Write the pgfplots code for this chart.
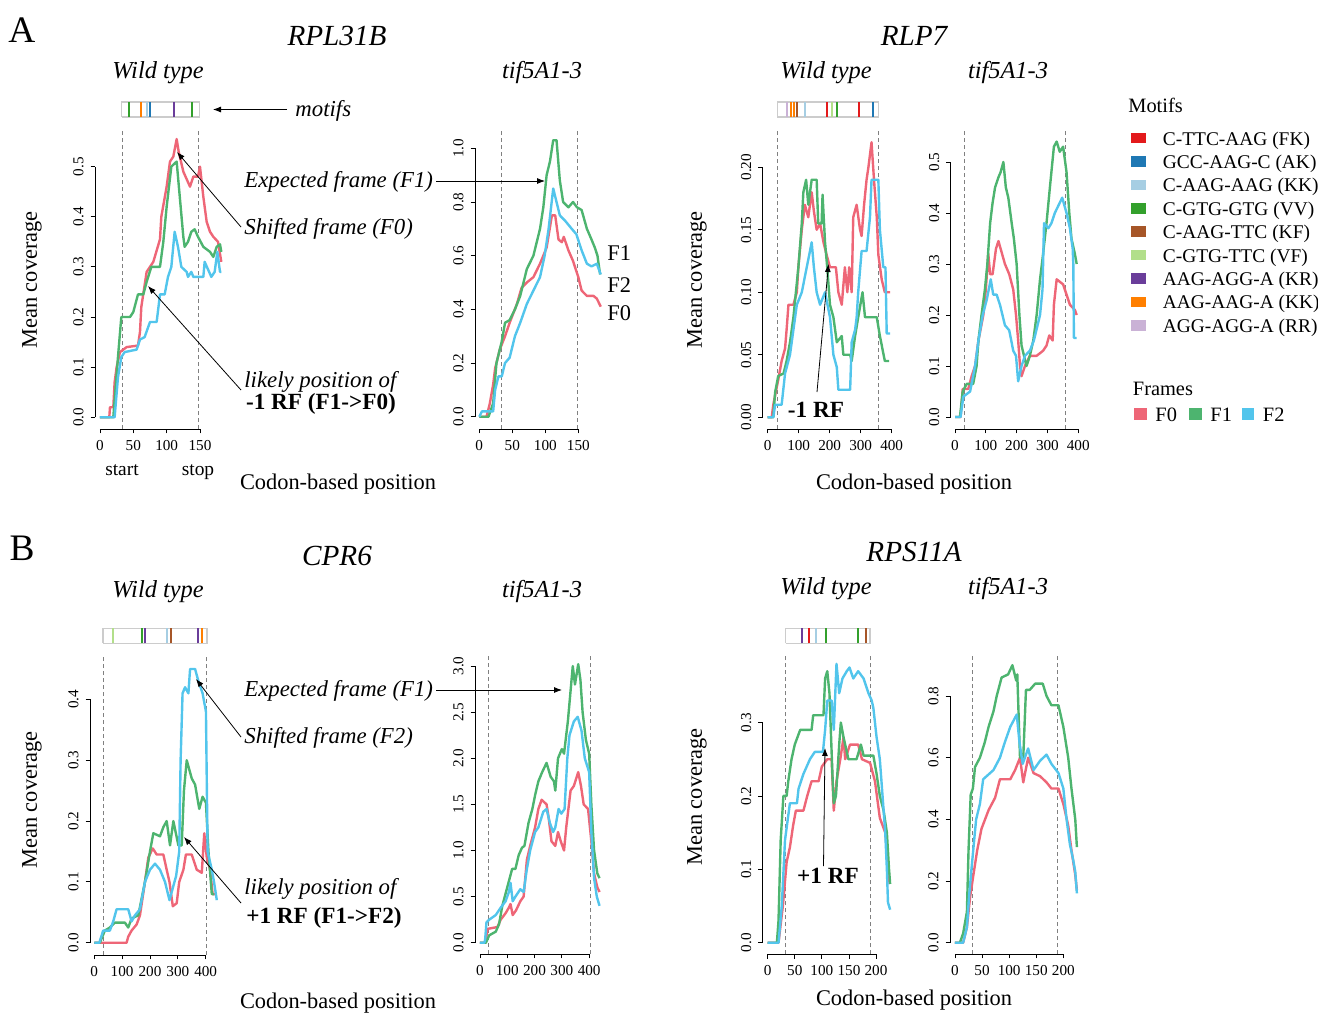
\documentclass[border=0pt]{standalone}
\usepackage{fontspec}
\setmainfont{Liberation Serif}
\usepackage{pgfplots}
\pgfplotsset{compat=1.18}
\usetikzlibrary{arrows.meta}

\newcommand\fs[1]{\fontsize{#1}{#1}\selectfont}

% frame colours
\definecolor{cFa}{HTML}{EE6677}
\definecolor{cFb}{HTML}{4DB46F}
\definecolor{cFc}{HTML}{52C5EC}
% motif colours
\definecolor{mFK}{HTML}{E31A1C}
\definecolor{mAK}{HTML}{1F78B4}
\definecolor{mKKa}{HTML}{A6CEE3}
\definecolor{mVV}{HTML}{33A02C}
\definecolor{mKF}{HTML}{A65628}
\definecolor{mVF}{HTML}{B2DF8A}
\definecolor{mKR}{HTML}{6A3D9A}
\definecolor{mKKb}{HTML}{FF7F00}
\definecolor{mRR}{HTML}{CAB2D6}

\pgfplotsset{
  rpanel/.style={scale only axis, anchor=south west,
    axis line style={draw=none}, tick pos=left, tick align=outside,
    major tick length=2.2pt, tick style={black, line width=0.4pt},
    ticklabel style={font=\fs{7.6}},
    yticklabel style={rotate=90, anchor=south},
    clip=false,
    every axis plot/.append style={line width=1.2pt, line join=round, mark=none}},
  motif/.style={scale only axis, anchor=south west, hide axis,
    height=7.5pt, ymin=0, ymax=1, clip=false},
}
% R-like axis lines: xmin, top y tick, ymin, last x tick
\newcommand\raxes[4]{%
  \draw[line width=0.4pt] (axis cs:#1,0) -- (axis cs:#1,#2);
  \draw[line width=0.4pt] (axis cs:0,#3) -- (axis cs:#4,#3);}
% start/stop dashed lines
\newcommand\startstop[4]{%
  \draw[gray, line width=0.45pt, dash pattern=on 2pt off 1.5pt] (axis cs:#1,#3) -- (axis cs:#1,#4);
  \draw[gray, line width=0.45pt, dash pattern=on 2pt off 1.5pt] (axis cs:#2,#3) -- (axis cs:#2,#4);}
\newcommand\mbar[2]{\addplot[gray!40, line width=0.8pt] coordinates {(#1,0)(#2,0)(#2,1)(#1,1)(#1,0)};}
\newcommand\mtick[2]{\addplot[#1, line width=1pt] coordinates {(#2,0)(#2,1)};}

\begin{document}
\begin{tikzpicture}

% ================= A: RPL31B wild type
\begin{axis}[rpanel, at={(47.55pt,-214.5pt)}, width=65.55pt, height=149.5pt,
  xmin=-7.3, xmax=189.3, ymin=-0.0234, ymax=0.573,
  xtick={0,50,100,150}, xticklabels={0,50,100,150},
  ytick={0,0.1,0.2,0.3,0.4,0.5}, yticklabels={0.0,0.1,0.2,0.3,0.4,0.5}]
\startstop{33}{148}{-0.0234}{0.573}
\raxes{-7.3}{0.5}{-0.0234}{150}
\addplot[cFa] coordinates {(0,0)(14,0)(15,0.02)(20,0.02)(22,0.07)(25,0.1)(30,0.13)(40,0.14)(57,0.143)(60,0.17)(62,0.22)(70,0.29)(80,0.31)(90,0.355)(92,0.4)(100,0.46)(105,0.51)(110,0.52)(115,0.555)(118,0.53)(125,0.49)(135,0.46)(140,0.48)(147,0.48)(150,0.5)(155,0.44)(160,0.39)(165,0.37)(170,0.36)(177,0.35)(182,0.31)};
\addplot[cFb] coordinates {(0,0)(20,0)(27,0.12)(32,0.2)(45,0.2)(50,0.21)(57,0.245)(65,0.245)(70,0.27)(77,0.3)(90,0.3)(95,0.35)(100,0.42)(107,0.5)(115,0.51)(119,0.45)(125,0.36)(127,0.34)(132,0.35)(137,0.37)(142,0.375)(147,0.36)(155,0.34)(165,0.33)(170,0.32)(175,0.34)(180,0.345)(182,0.33)};
\addplot[cFc] coordinates {(0,0)(22,0)(27,0.08)(32,0.12)(37,0.13)(55,0.135)(60,0.155)(67,0.16)(75,0.19)(85,0.19)(90,0.245)(97,0.245)(102,0.28)(107,0.3)(112,0.37)(117,0.34)(122,0.3)(130,0.29)(132,0.28)(137,0.29)(140,0.28)(155,0.28)(157,0.31)(167,0.28)(172,0.29)(176,0.33)(180,0.29)(182,0.29)};
\end{axis}
\begin{axis}[motif, at={(47.55pt,-58.35pt)}, width=65.55pt, xmin=-7.3, xmax=189.3]
\mbar{32.5}{149}
\mtick{mVV}{43.5}\mtick{mKKb}{61}\mtick{mKKa}{71}\mtick{mAK}{75}\mtick{mKR}{111}\mtick{mVV}{138}
\end{axis}

% ================= A: RPL31B tif5A1-3
\begin{axis}[rpanel, at={(237.5pt,-214.5pt)}, width=65.35pt, height=149.5pt,
  xmin=-6.5, xmax=191.5, ymin=-0.0458, ymax=1.068,
  xtick={0,50,100,150}, xticklabels={0,50,100,150},
  ytick={0,0.2,0.4,0.6,0.8,1.0}, yticklabels={0.0,0.2,0.4,0.6,0.8,1.0}]
\startstop{33}{148}{-0.0458}{1.068}
\raxes{-6.5}{1.0}{-0.0458}{150}
\addplot[cFa] coordinates {(0,0)(11,0)(16,0.05)(21,0.12)(24,0.18)(31,0.25)(39,0.3)(46,0.35)(57,0.42)(64,0.48)(72,0.5)(82,0.52)(92,0.57)(102,0.63)(110,0.75)(115,0.75)(120,0.66)(125,0.65)(128,0.67)(135,0.62)(142,0.58)(150,0.52)(155,0.47)(163,0.45)(173,0.45)(178,0.44)(184,0.41)};
\addplot[cFb] coordinates {(0,0)(14,0)(21,0.05)(26,0.2)(34,0.28)(39,0.35)(46,0.36)(54,0.4)(62,0.45)(72,0.55)(82,0.6)(92,0.7)(97,0.78)(102,0.9)(107,0.95)(112,1.03)(117,1.03)(122,0.88)(127,0.8)(135,0.78)(142,0.8)(148,0.78)(155,0.77)(163,0.7)(170,0.66)(175,0.63)(179,0.6)(183,0.53)};
\addplot[cFc] coordinates {(0,0)(4,0.02)(21,0.02)(24,0.1)(29,0.15)(34,0.15)(39,0.2)(46,0.22)(54,0.3)(62,0.35)(72,0.42)(82,0.47)(92,0.52)(99,0.6)(105,0.7)(112,0.85)(117,0.8)(122,0.75)(130,0.73)(140,0.7)(147,0.68)(155,0.62)(163,0.57)(170,0.56)(178,0.57)(184,0.53)};
\end{axis}

% ================= A: RLP7 wild type
\begin{axis}[rpanel, at={(381.35pt,-214.5pt)}, width=64.95pt, height=149.5pt,
  xmin=-16.1, xmax=403, ymin=-0.0094, ymax=0.2298,
  xtick={0,100,200,300,400}, xticklabels={0,100,200,300,400},
  ytick={0,0.05,0.1,0.15,0.2}, yticklabels={0.00,0.05,0.10,0.15,0.20}]
\startstop{31}{358}{-0.0094}{0.2298}
\raxes{-16.1}{0.2}{-0.0094}{400}
\addplot[cFa] coordinates {(0,0)(13,0)(18,0.01)(34,0.03)(45,0.045)(56,0.055)(61,0.07)(67,0.09)(83,0.09)(94,0.1)(99,0.12)(110,0.15)(120,0.17)(131,0.16)(142,0.18)(149,0.165)(158,0.15)(169,0.155)(180,0.14)(190,0.13)(201,0.12)(220,0.12)(228,0.1)(239,0.09)(249,0.12)(257,0.1)(263,0.12)(271,0.1)(276,0.16)(287,0.17)(298,0.15)(303,0.145)(311,0.17)(319,0.19)(325,0.2)(335,0.22)(343,0.19)(352,0.16)(357,0.13)(368,0.11)(378,0.1)(395,0.1)};
\addplot[cFb] coordinates {(0,0)(18,0)(24,0.02)(34,0.033)(51,0.035)(61,0.045)(72,0.06)(83,0.08)(91,0.1)(99,0.12)(110,0.155)(115,0.18)(124,0.19)(131,0.17)(142,0.19)(158,0.19)(163,0.155)(174,0.155)(177,0.178)(185,0.14)(192,0.12)(201,0.09)(212,0.08)(223,0.06)(239,0.065)(244,0.05)(266,0.05)(271,0.045)(282,0.065)(292,0.08)(306,0.1)(314,0.08)(352,0.08)(362,0.065)(378,0.045)(392,0.045)};
\addplot[cFc] coordinates {(0,0)(18,0)(24,0.01)(45,0.01)(56,0.035)(72,0.05)(83,0.07)(94,0.09)(110,0.1)(126,0.12)(142,0.14)(149,0.12)(158,0.1)(169,0.09)(185,0.1)(201,0.08)(212,0.05)(223,0.04)(228,0.022)(266,0.022)(271,0.06)(282,0.07)(287,0.08)(292,0.1)(303,0.133)(319,0.133)(330,0.16)(335,0.19)(357,0.19)(362,0.15)(373,0.12)(380,0.12)(384,0.067)(395,0.067)};
\end{axis}
\begin{axis}[motif, at={(381.35pt,-58.35pt)}, width=64.95pt, xmin=-16.1, xmax=403]
\mbar{31}{358}
\mtick{mRR}{61}\mtick{mKKb}{75}\mtick{mKKb}{86}\mtick{mKF}{94}\mtick{mKKa}{120}\mtick{mFK}{190}\mtick{mVF}{206}\mtick{mVV}{223}\mtick{mFK}{296}\mtick{mAK}{341}
\end{axis}

% ================= A: RLP7 tif5A1-3
\begin{axis}[rpanel, at={(475.35pt,-214.5pt)}, width=65.15pt, height=149.5pt,
  xmin=-14, xmax=409, ymin=-0.0235, ymax=0.5627,
  xtick={0,100,200,300,400}, xticklabels={0,100,200,300,400},
  ytick={0,0.1,0.2,0.3,0.4,0.5}, yticklabels={0.0,0.1,0.2,0.3,0.4,0.5}]
\startstop{32}{358}{-0.0235}{0.5627}
\raxes{-14}{0.5}{-0.0235}{400}
\addplot[cFa] coordinates {(0,0)(18,0)(25,0.055)(43,0.055)(54,0.08)(65,0.1)(76,0.15)(92,0.2)(100,0.25)(108,0.32)(114,0.28)(122,0.28)(133,0.33)(141,0.345)(162,0.3)(176,0.28)(189,0.25)(198,0.2)(205,0.15)(211,0.1)(216,0.08)(227,0.1)(243,0.12)(265,0.12)(286,0.13)(297,0.14)(306,0.16)(317,0.15)(321,0.22)(330,0.27)(351,0.26)(362,0.24)(373,0.22)(389,0.21)(395,0.2)};
\addplot[cFb] coordinates {(0,0)(16,0)(25,0.05)(38,0.065)(59,0.065)(70,0.1)(76,0.15)(86,0.2)(97,0.25)(105,0.3)(114,0.38)(122,0.42)(130,0.45)(141,0.47)(148,0.48)(157,0.5)(165,0.45)(173,0.43)(184,0.38)(191,0.35)(200,0.3)(209,0.2)(216,0.14)(224,0.12)(232,0.1)(243,0.12)(254,0.15)(265,0.2)(276,0.27)(284,0.31)(297,0.38)(308,0.45)(321,0.53)(330,0.54)(340,0.52)(351,0.53)(362,0.48)(371,0.4)(378,0.35)(389,0.32)(395,0.3)};
\addplot[cFc] coordinates {(0,0)(18,0)(27,0.04)(49,0.05)(65,0.1)(76,0.15)(90,0.2)(103,0.23)(116,0.27)(124,0.24)(135,0.24)(146,0.22)(162,0.18)(176,0.17)(189,0.13)(198,0.12)(205,0.07)(216,0.1)(227,0.12)(243,0.13)(256,0.15)(276,0.2)(284,0.25)(289,0.38)(303,0.37)(313,0.38)(324,0.4)(340,0.42)(348,0.43)(362,0.4)(373,0.37)(382,0.33)(384,0.3)(386,0.155)(395,0.155)};
\end{axis}

% ================= B: CPR6 wild type
\begin{axis}[rpanel, at={(45pt,-477.5pt)}, width=65.85pt, height=150pt,
  xmin=-15.4, xmax=457.6, ymin=-0.0202, ymax=0.473,
  xtick={0,100,200,300,400}, xticklabels={0,100,200,300,400},
  ytick={0,0.1,0.2,0.3,0.4}, yticklabels={0.0,0.1,0.2,0.3,0.4}]
\startstop{32}{404}{-0.0202}{0.473}
\raxes{-15.4}{0.4}{-0.0202}{400}
\addplot[cFa] coordinates {(0,0)(116,0)(122,0.01)(134,0.02)(152,0.03)(164,0.045)(182,0.1)(194,0.14)(210,0.155)(224,0.145)(248,0.145)(260,0.12)(270,0.1)(282,0.06)(296,0.065)(305,0.1)(320,0.12)(329,0.145)(350,0.145)(368,0.12)(386,0.115)(395,0.18)(404,0.14)(416,0.12)(425,0.08)(434,0.08)};
\addplot[cFb] coordinates {(0,0)(20,0)(38,0.02)(56,0.025)(74,0.033)(110,0.033)(122,0.025)(134,0.04)(158,0.045)(182,0.1)(200,0.15)(212,0.18)(236,0.175)(248,0.19)(260,0.2)(272,0.16)(284,0.2)(302,0.16)(314,0.16)(322,0.25)(332,0.3)(350,0.27)(362,0.26)(377,0.22)(389,0.24)(401,0.23)(410,0.15)(422,0.08)(430,0.08)};
\addplot[cFc] coordinates {(0,0)(18,0)(32,0.02)(56,0.02)(68,0.035)(80,0.055)(122,0.055)(134,0.035)(146,0.045)(164,0.055)(182,0.1)(200,0.12)(218,0.13)(236,0.12)(254,0.1)(270,0.07)(282,0.09)(294,0.11)(305,0.15)(310,0.3)(317,0.41)(326,0.42)(338,0.41)(344,0.45)(362,0.45)(374,0.43)(389,0.41)(401,0.38)(407,0.15)(422,0.12)(430,0.1)(440,0.07)};
\end{axis}
\begin{axis}[motif, at={(45pt,-321.65pt)}, width=65.85pt, xmin=-15.4, xmax=457.6]
\mbar{32}{404}
\mtick{mVF}{66}\mtick{mVV}{172}\mtick{mKR}{182}\mtick{mKKa}{260}\mtick{mKF}{275}\mtick{mKR}{373}\mtick{mKKb}{386}
\end{axis}

% ================= B: CPR6 tif5A1-3
\begin{axis}[rpanel, at={(237.5pt,-477pt)}, width=65pt, height=149.5pt,
  xmin=-18, xmax=458, ymin=-0.1226, ymax=3.12,
  xtick={0,100,200,300,400}, xticklabels={0,100,200,300,400},
  ytick={0,0.5,1,1.5,2,2.5,3}, yticklabels={0.0,0.5,1.0,1.5,2.0,2.5,3.0}]
\startstop{31}{404}{-0.1226}{3.12}
\raxes{-18}{3}{-0.1226}{400}
\addplot[cFa] coordinates {(0,0)(20,0)(28,0.15)(64,0.17)(76,0.25)(94,0.32)(106,0.38)(112,0.42)(120,0.3)(132,0.35)(148,0.45)(160,0.5)(172,0.9)(184,1.05)(202,1.25)(214,1.45)(226,1.55)(244,1.5)(252,1.35)(262,1.1)(276,1.05)(286,1.2)(296,1.1)(308,1.0)(316,1.25)(332,1.65)(344,1.7)(360,1.85)(370,1.7)(380,1.5)(396,1.45)(408,1.1)(418,0.75)(430,0.6)(438,0.55)};
\addplot[cFb] coordinates {(0,0)(22,0)(34,0.08)(58,0.12)(70,0.2)(82,0.4)(100,0.6)(118,0.8)(130,0.8)(142,0.95)(154,1.03)(163,1.05)(178,1.3)(192,1.45)(202,1.6)(214,1.75)(228,1.85)(244,1.95)(259,1.8)(271,1.75)(276,1.65)(286,2.0)(300,2.1)(308,2.05)(322,2.4)(334,2.8)(340,3.0)(348,2.8)(360,3.02)(368,2.85)(376,2.5)(388,2.2)(400,2.05)(408,1.5)(418,1.0)(430,0.75)(438,0.7)};
\addplot[cFc] coordinates {(0,0)(16,0)(19,0.03)(24,0.22)(34,0.25)(58,0.3)(76,0.38)(94,0.45)(106,0.55)(112,0.65)(120,0.45)(130,0.5)(148,0.58)(160,0.55)(172,0.8)(184,1.0)(202,1.2)(214,1.25)(232,1.42)(244,1.45)(256,1.3)(268,1.2)(276,1.25)(288,1.45)(298,1.4)(310,1.45)(320,2.0)(328,2.25)(344,2.4)(358,2.45)(372,2.3)(384,2.0)(400,1.85)(408,1.2)(418,0.7)(428,0.5)(438,0.4)};
\end{axis}

% ================= B: RPS11A wild type
\begin{axis}[rpanel, at={(381.35pt,-477.15pt)}, width=66.15pt, height=149.65pt,
  xmin=-9.2, xmax=235, ymin=-0.0158, ymax=0.392,
  xtick={0,50,100,150,200}, xticklabels={0,50,100,150,200},
  ytick={0,0.1,0.2,0.3}, yticklabels={0.0,0.1,0.2,0.3}]
\startstop{33}{190}{-0.0158}{0.392}
\raxes{-9.2}{0.3}{-0.0158}{200}
\addplot[cFa] coordinates {(0,0)(20,0)(28,0.05)(35,0.11)(41,0.13)(47,0.16)(52,0.18)(66,0.18)(73,0.2)(81,0.22)(94,0.22)(100,0.24)(110,0.25)(118,0.25)(122,0.18)(127,0.22)(134,0.25)(140,0.28)(143,0.25)(152,0.27)(167,0.27)(174,0.25)(189,0.245)(198,0.22)(207,0.17)(217,0.15)(223,0.1)(225,0.08)};
\addplot[cFb] coordinates {(0,0)(17,0)(20,0.03)(24,0.14)(29,0.2)(35,0.2)(38,0.22)(44,0.25)(50,0.27)(60,0.29)(81,0.29)(84,0.31)(103,0.31)(106,0.36)(110,0.37)(114,0.34)(116,0.3)(120,0.22)(122,0.19)(126,0.2)(132,0.27)(135,0.3)(140,0.28)(149,0.25)(164,0.25)(172,0.27)(177,0.255)(195,0.255)(201,0.23)(207,0.2)(214,0.18)(220,0.15)(224,0.1)(226,0.08)};
\addplot[cFc] coordinates {(0,0)(20,0)(26,0.05)(32,0.14)(41,0.19)(54,0.19)(57,0.21)(66,0.23)(78,0.25)(87,0.26)(102,0.26)(106,0.29)(110,0.33)(118,0.33)(122,0.29)(127,0.38)(132,0.34)(138,0.36)(146,0.37)(151,0.375)(158,0.36)(167,0.37)(177,0.36)(186,0.34)(192,0.33)(195,0.32)(201,0.28)(207,0.25)(212,0.2)(217,0.15)(220,0.1)(222,0.055)(226,0.045)};
\end{axis}
\begin{axis}[motif, at={(381.35pt,-321.65pt)}, width=66.15pt, xmin=-9.2, xmax=235]
\mbar{33}{189}
\mtick{mKR}{64}\mtick{mFK}{76}\mtick{mKKa}{89}\mtick{mVV}{107}\mtick{mVV}{166}\mtick{mKF}{181}
\end{axis}

% ================= B: RPS11A tif5A1-3
\begin{axis}[rpanel, at={(475pt,-477pt)}, width=66.15pt, height=149.5pt,
  xmin=-9.2, xmax=235, ymin=-0.0366, ymax=0.933,
  xtick={0,50,100,150,200}, xticklabels={0,50,100,150,200},
  ytick={0,0.2,0.4,0.6,0.8}, yticklabels={0.0,0.2,0.4,0.6,0.8}]
\startstop{33}{190}{-0.0366}{0.933}
\raxes{-9.2}{0.8}{-0.0366}{200}
\addplot[cFa] coordinates {(0,0)(15,0)(22,0.05)(28,0.15)(34,0.22)(41,0.3)(49,0.37)(62,0.43)(74,0.47)(83,0.53)(102,0.53)(111,0.56)(120,0.6)(126,0.52)(135,0.6)(145,0.55)(157,0.54)(169,0.52)(178,0.5)(191,0.5)(200,0.45)(209,0.38)(215,0.3)(222,0.22)(225,0.17)};
\addplot[cFb] coordinates {(0,0)(9,0)(15,0.03)(22,0.1)(25,0.3)(29,0.48)(33,0.5)(37,0.57)(46,0.6)(55,0.65)(62,0.7)(71,0.75)(77,0.8)(86,0.86)(98,0.87)(106,0.9)(113,0.85)(115,0.87)(120,0.6)(126,0.6)(131,0.82)(138,0.82)(148,0.84)(162,0.84)(169,0.8)(178,0.77)(191,0.77)(200,0.7)(209,0.6)(215,0.5)(222,0.4)(225,0.31)};
\addplot[cFc] coordinates {(0,0)(15,0)(22,0.05)(26,0.15)(31,0.25)(39,0.4)(46,0.45)(52,0.53)(71,0.56)(83,0.6)(92,0.65)(102,0.7)(114,0.74)(119,0.65)(125,0.58)(135,0.63)(145,0.56)(157,0.59)(169,0.61)(178,0.58)(191,0.55)(200,0.5)(206,0.4)(212,0.32)(218,0.27)(222,0.23)(225,0.16)};
\end{axis}

% ================= annotations (pixel units, origin top left)
\begin{scope}[x=0.5pt, y=-0.5pt, every node/.style={inner sep=0pt}]
\node[font=\fs{18.7}, anchor=base] at (22,42) {A};
\node[font=\fs{18.7}, anchor=base] at (22,560) {B};

\node[font=\fs{14.6}\itshape, anchor=base] at (337,45) {RPL31B};
\node[font=\fs{14.6}\itshape, anchor=base] at (914,45) {RLP7};
\node[font=\fs{14.6}\itshape, anchor=base] at (337,565) {CPR6};
\node[font=\fs{14.6}\itshape, anchor=base] at (914,561) {RPS11A};

\foreach \x/\y/\t in {158/78/Wild type, 542/78/tif5A1-3, 826/78/Wild type, 1008/78/tif5A1-3,
                      158/597/Wild type, 542/597/tif5A1-3, 826/594/Wild type, 1008/594/tif5A1-3}
  \node[font=\fs{12.2}\itshape, anchor=base] at (\x,\y) {\t};

\foreach \x/\y in {32/280, 697/280, 32/800, 697/797}
  \node[font=\fs{11.2}, rotate=90] at (\x,\y) {Mean coverage};
\foreach \x/\y in {338/489, 914/489, 338/1008, 914/1005}
  \node[font=\fs{11.2}, anchor=base] at (\x,\y) {Codon-based position};

\node[font=\fs{9.7}, anchor=base] at (122,475) {start};
\node[font=\fs{9.7}, anchor=base] at (198,475) {stop};

% motifs pointer
\node[font=\fs{11.4}\itshape, anchor=base west] at (295,116.5) {motifs};
\draw[line width=0.4pt, -{Latex[length=4pt,width=3pt]}] (287,109.5) -- (213,109.5);

% row A notes
\node[font=\fs{11.4}\itshape, anchor=base west] at (244,187) {Expected frame (F1)};
\draw[line width=0.4pt, -{Latex[length=4pt,width=3pt]}] (436,181) -- (545,181);
\node[font=\fs{11.4}\itshape, anchor=base west] at (244,234) {Shifted frame (F0)};
\draw[line width=0.4pt, -{Latex[length=4pt,width=3pt]}] (241,227) -- (177,152);
\node[font=\fs{11.4}\itshape, anchor=base west] at (244,387) {likely position of};
\node[font=\fs{11.6}\bfseries, anchor=base] at (321,409) {-1 RF (F1->F0)};
\draw[line width=0.4pt, -{Latex[length=4pt,width=3pt]}] (241,390) -- (148,286);
\node[font=\fs{11.2}, anchor=base west] at (607,260) {F1};
\node[font=\fs{11.2}, anchor=base west] at (607,292) {F2};
\node[font=\fs{11.2}, anchor=base west] at (607,320) {F0};
\node[font=\fs{11.6}\bfseries, anchor=base] at (816,417) {-1 RF};
\draw[line width=0.4pt, -{Latex[length=4pt,width=3pt]}] (817,392) -- (828.5,264);

% row B notes
\node[font=\fs{11.4}\itshape, anchor=base west] at (244,696) {Expected frame (F1)};
\draw[line width=0.4pt, -{Latex[length=4pt,width=3pt]}] (436,690) -- (562,690);
\node[font=\fs{11.4}\itshape, anchor=base west] at (244,743) {Shifted frame (F2)};
\draw[line width=0.4pt, -{Latex[length=4pt,width=3pt]}] (241,737) -- (196,679);
\node[font=\fs{11.4}\itshape, anchor=base west] at (244,894) {likely position of};
\node[font=\fs{11.6}\bfseries, anchor=base] at (324,923) {+1 RF (F1->F2)};
\draw[line width=0.4pt, -{Latex[length=4pt,width=3pt]}] (241,903) -- (184,837);
\node[font=\fs{11.6}\bfseries, anchor=base] at (828,883) {+1 RF};
\draw[line width=0.4pt, -{Latex[length=4pt,width=3pt]}] (823.5,866) -- (825,748);

% legend
\node[font=\fs{10.2}, anchor=base west] at (1128,112) {Motifs};
\foreach \c/\t [count=\i from 0] in {mFK/C-TTC-AAG (FK), mAK/GCC-AAG-C (AK), mKKa/C-AAG-AAG (KK),
    mVV/C-GTG-GTG (VV), mKF/C-AAG-TTC (KF), mVF/C-GTG-TTC (VF), mKR/AAG-AGG-A (KR),
    mKKb/AAG-AAG-A (KK), mRR/AGG-AGG-A (RR)} {
  \fill[\c] (1131,{132.7+23.4*\i}) rectangle (1146,{143.4+23.4*\i});
  \node[font=\fs{9.7}, anchor=base west] at (1162.5,{145+23.4*\i}) {\t};
}
\node[font=\fs{10.2}, anchor=base west] at (1132.5,395) {Frames};
\fill[cFa] (1134,408) rectangle (1146.5,420);
\node[font=\fs{10.2}, anchor=base west] at (1155,421) {F0};
\fill[cFb] (1189,408) rectangle (1201.5,420);
\node[font=\fs{10.2}, anchor=base west] at (1210,421) {F1};
\fill[cFc] (1241.5,408) rectangle (1254,420);
\node[font=\fs{10.2}, anchor=base west] at (1262.5,421) {F2};

\pgfresetboundingbox
\path[use as bounding box] (0,0) rectangle (1318,1013);
\end{scope}
\end{tikzpicture}
\end{document}
